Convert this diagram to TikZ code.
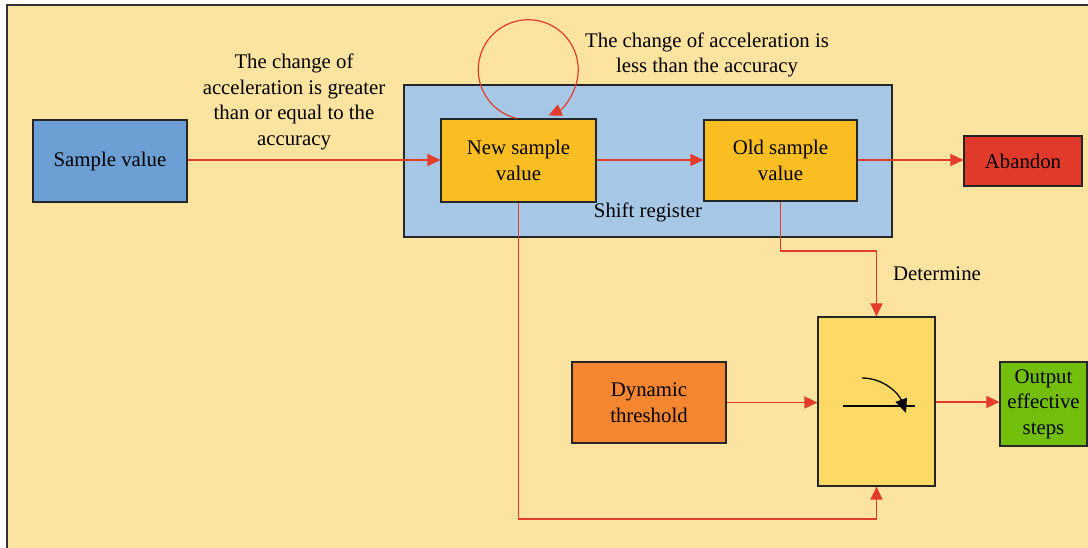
\documentclass[tikz,border=0pt]{standalone}
\usepackage{fontspec}
\setmainfont{Liberation Serif}
\usetikzlibrary{arrows.meta}
\definecolor{bgyel}{RGB}{253,227,160}
\definecolor{sblue}{RGB}{108,159,211}
\definecolor{lblue}{RGB}{166,199,229}
\definecolor{gold}{RGB}{251,190,34}
\definecolor{redbox}{RGB}{226,58,42}
\definecolor{orangebox}{RGB}{244,134,50}
\definecolor{swyel}{RGB}{255,217,102}
\definecolor{greenbox}{RGB}{114,190,10}
\definecolor{arrred}{RGB}{228,60,42}
\tikzset{
  box/.style={draw=black!85, line width=1.1pt, align=center, inner sep=0pt, font=\fontsize{20.8}{25.5}\selectfont},
  conn/.style={draw=arrred, line width=1.2pt, -{Triangle[length=13pt,width=12pt]}},
  lbl/.style={align=center, inner sep=0pt, font=\fontsize{20.8}{25.5}\selectfont}
}
\begin{document}
\begin{tikzpicture}[x=1pt,y=-1pt]
\useasboundingbox (0,0) rectangle (1088,548);
\fill[bgyel] (7,5) rectangle (1092,552);
\draw[black!80, line width=1.5pt] (7,552) -- (7,5) -- (1092,5);

\node[box, fill=lblue, minimum width=488pt, minimum height=152pt] (shift) at (648,161) {};
\node[lbl] (shiftlbl) at (648,212) {Shift register};
\node[box, fill=sblue, minimum width=154pt, minimum height=82pt] (sample) at (110,161) {Sample value};
\node[box, fill=gold, minimum width=155pt, minimum height=83pt] (new) at (518.5,160.5) {New sample\\value};
\node[box, fill=gold, minimum width=153pt, minimum height=81pt] (old) at (780.5,160.5) {Old sample\\value};
\node[box, fill=redbox, minimum width=118pt, minimum height=50pt] (abandon) at (1023,161) {Abandon};
\node[box, fill=orangebox, minimum width=154pt, minimum height=81pt] (dyn) at (649,402.5) {Dynamic\\threshold};
\node[box, fill=swyel, minimum width=117pt, minimum height=169pt] (sw) at (876.5,401.5) {};
\node[box, fill=greenbox, minimum width=87pt, minimum height=84pt] (out) at (1043.5,404) {Output\\effective\\steps};

\node[lbl] (lblgreater) at (294,102) {The change of\\acceleration is greater\\than or equal to the\\accuracy};
\node[lbl] (lblless) at (707,55) {The change of acceleration is\\less than the accuracy};
\node[lbl] (lbldet) at (937,274) {Determine};

\draw[conn] (sample.east |- 0,160) -- (new.west |- 0,160);
\draw[conn] (new.east |- 0,160) -- (old.west |- 0,160);
\draw[conn] (old.east |- 0,160) -- (abandon.west |- 0,160);
\draw[conn] (old.south) -- (780.5,251) -| (sw.north);
\draw[conn] (dyn.east) -- (sw.west |- dyn.east);
\draw[conn] (sw.east |- 0,402) -- (out.west |- 0,402);
\draw[conn] (new.south) -- (518.5,519) -| (sw.south);
\draw[conn] ([xshift=-1.5pt]new.north) arc[start angle=103, end angle=426, radius=50];

\coordinate (swl) at (843,406);
\coordinate (swr) at (915,406);
\coordinate (cs) at (862,378);
\coordinate (ce) at (906,413);
\draw[black, line width=1.3pt] (swl) -- (swr);
\draw[black, line width=1.3pt, -{Triangle[length=14pt,width=12pt]}] (cs) .. controls (884,378) and (899,394) .. (ce);
\end{tikzpicture}
\end{document}
